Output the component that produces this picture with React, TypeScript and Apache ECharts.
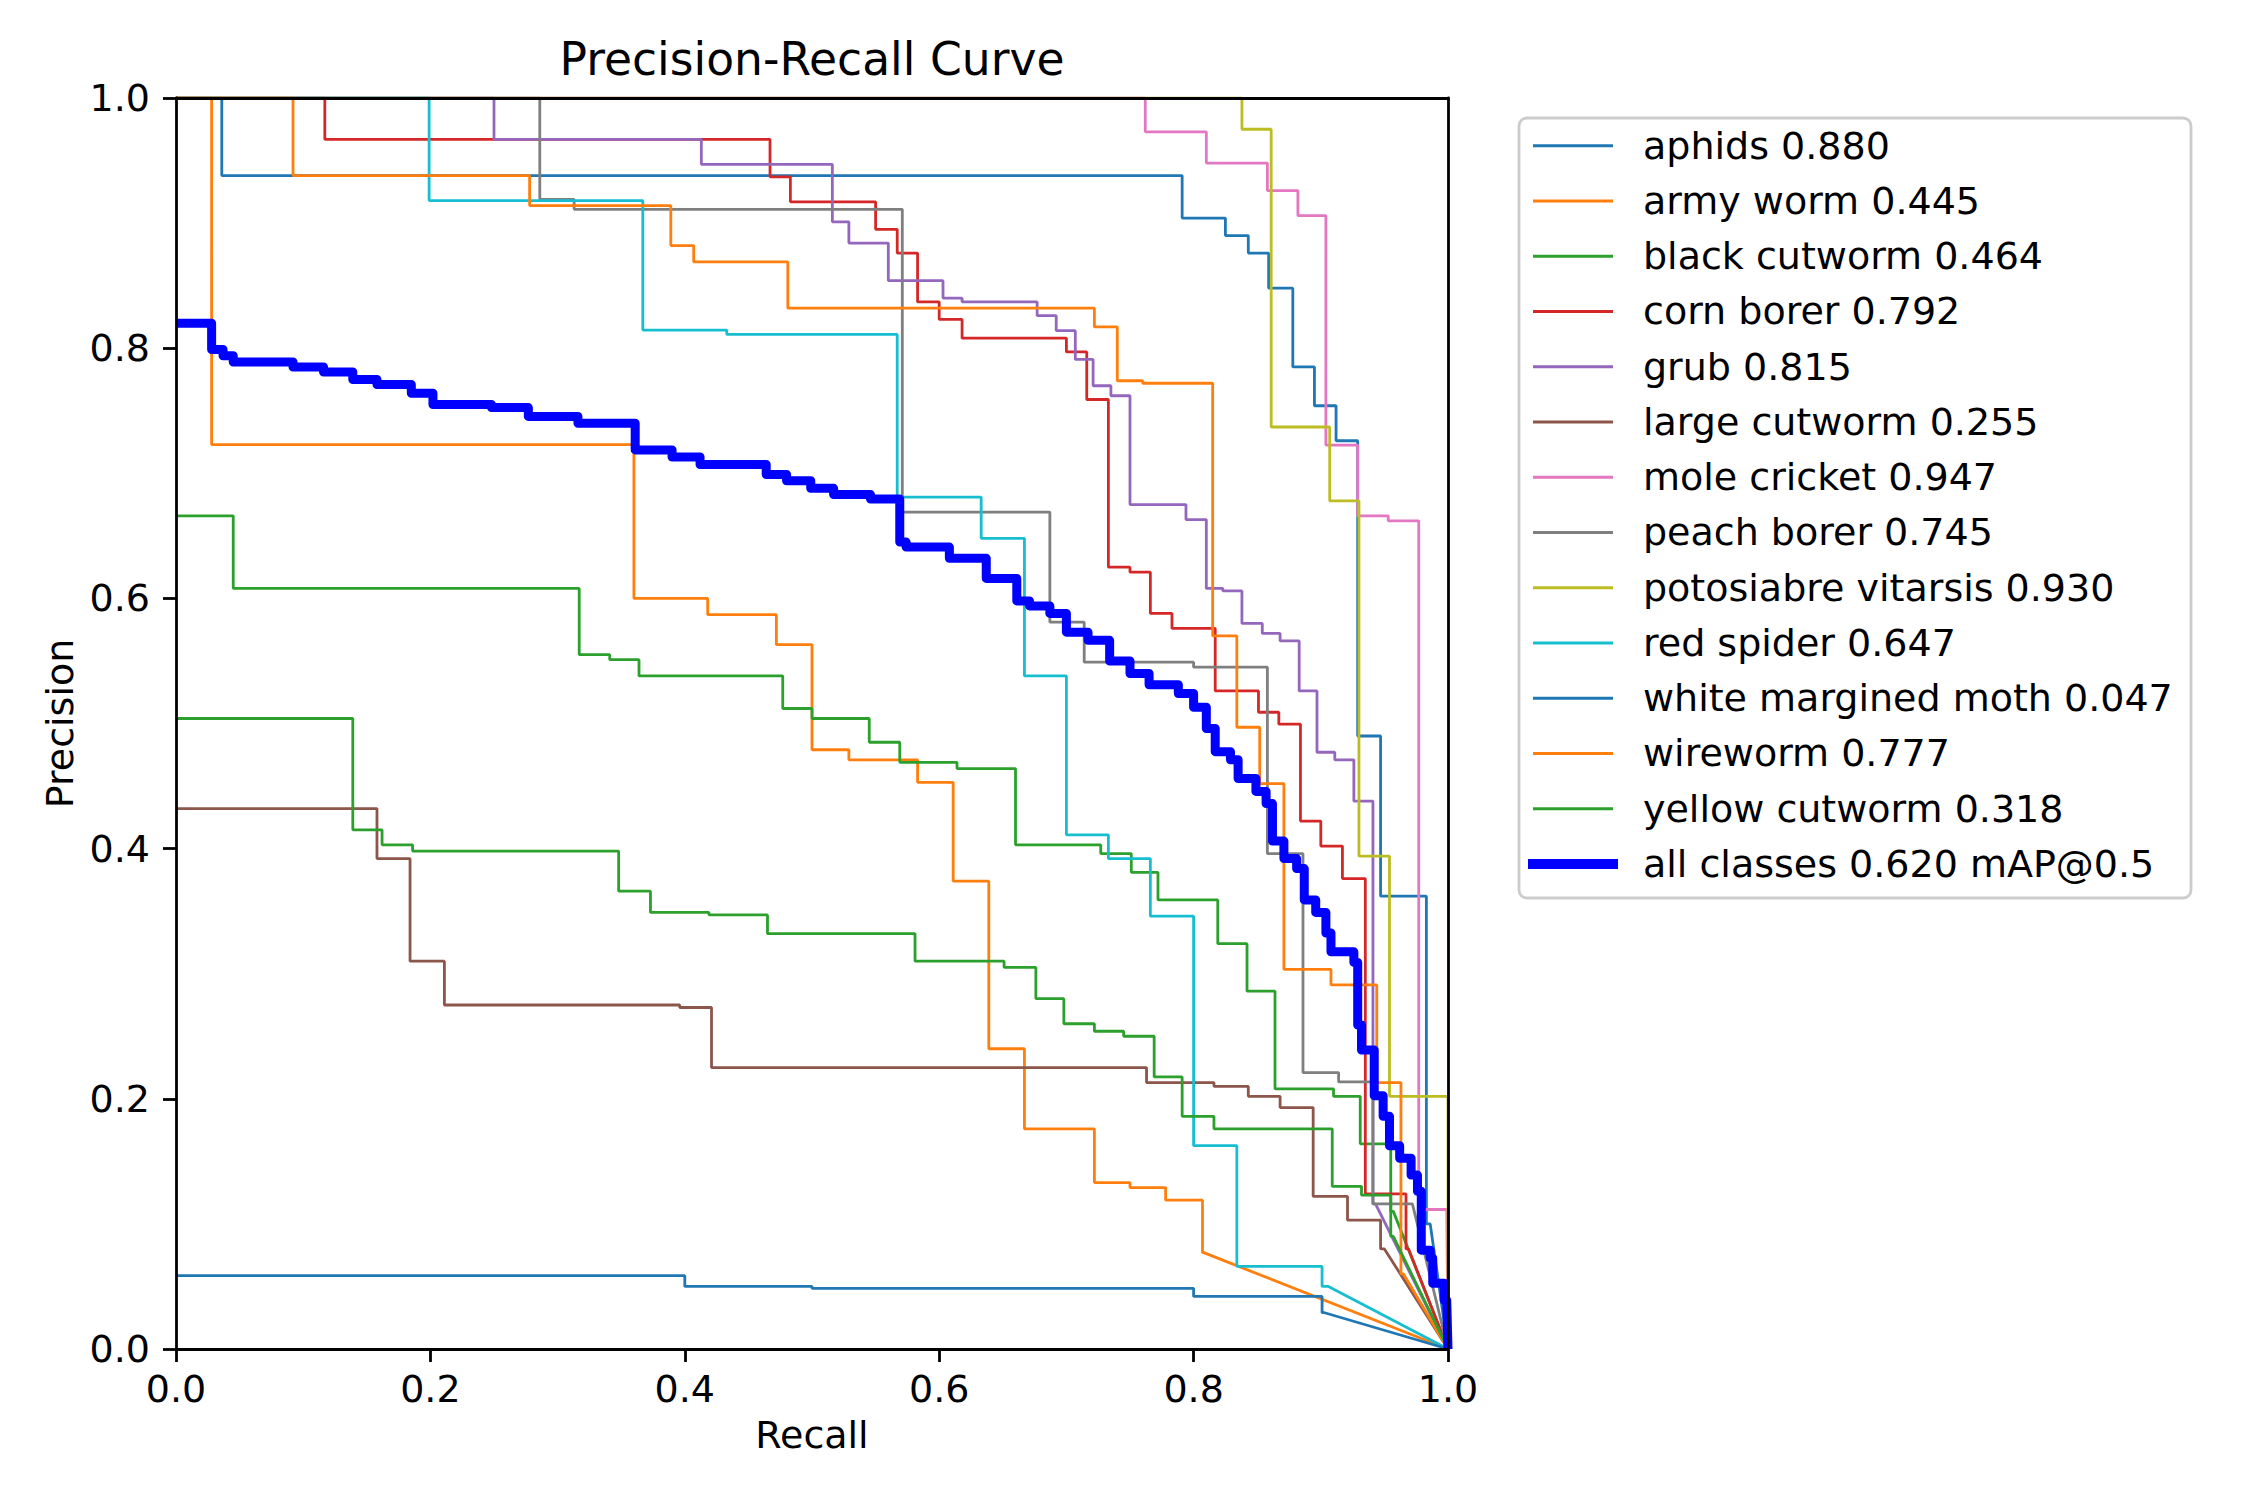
import React, { useEffect, useRef } from 'react';
import * as echarts from 'echarts';

const CLASS_NAMES = ['aphids', 'army worm', 'black cutworm', 'corn borer', 'grub', 'large cutworm', 'mole cricket', 'peach borer', 'potosiabre vitarsis', 'red spider', 'white margined moth', 'wireworm', 'yellow cutworm'];
const CLASS_AP = ['0.880', '0.445', '0.464', '0.792', '0.815', '0.255', '0.947', '0.745', '0.930', '0.647', '0.047', '0.777', '0.318'];
const COLORS = ['#1f77b4', '#ff7f0e', '#2ca02c', '#d62728', '#9467bd', '#8c564b', '#e377c2', '#7f7f7f', '#bcbd22', '#17becf', '#1f77b4', '#ff7f0e', '#2ca02c'];

// recall at which each precision level ends / precision levels
const APHIDS_R = [0.036, 0.791, 0.825, 0.843, 0.859, 0.878, 0.895, 0.912, 0.929, 0.947, 0.983, 0.986];
const APHIDS_P = [1.0, 0.938, 0.904, 0.890, 0.876, 0.848, 0.785, 0.754, 0.726, 0.490, 0.362, 0.100];
const ARMY_R = [0.028, 0.360, 0.418, 0.472, 0.500, 0.529, 0.583, 0.611, 0.639, 0.667, 0.722, 0.750, 0.778, 0.807, 0.808];
const ARMY_P = [1.0, 0.723, 0.600, 0.587, 0.563, 0.479, 0.471, 0.453, 0.374, 0.240, 0.176, 0.133, 0.129, 0.119, 0.077];
const BLACK_R = [0.045, 0.317, 0.341, 0.364, 0.477, 0.500, 0.545, 0.569, 0.614, 0.660, 0.727, 0.751, 0.772, 0.819, 0.842, 0.864, 0.910, 0.931, 0.955, 0.957];
const BLACK_P = [0.666, 0.608, 0.555, 0.551, 0.538, 0.512, 0.504, 0.485, 0.469, 0.464, 0.403, 0.396, 0.381, 0.359, 0.324, 0.286, 0.208, 0.202, 0.164, 0.11];
const CORN_R = [0.117, 0.467, 0.483, 0.550, 0.567, 0.583, 0.600, 0.618, 0.700, 0.716, 0.733, 0.750, 0.766, 0.783, 0.817, 0.851, 0.867, 0.884, 0.900, 0.917, 0.935, 0.967, 0.969];
const CORN_P = [1.0, 0.967, 0.937, 0.917, 0.895, 0.876, 0.837, 0.823, 0.808, 0.797, 0.759, 0.625, 0.621, 0.588, 0.576, 0.526, 0.509, 0.4995, 0.422, 0.402, 0.376, 0.124, 0.08];
const GRUB_R = [0.250, 0.413, 0.516, 0.529, 0.560, 0.603, 0.618, 0.677, 0.692, 0.707, 0.721, 0.735, 0.750, 0.794, 0.810, 0.823, 0.838, 0.854, 0.868, 0.883, 0.897, 0.911, 0.926, 0.941, 0.943];
const GRUB_P = [1.0, 0.967, 0.947, 0.901, 0.884, 0.854, 0.840, 0.837, 0.826, 0.814, 0.791, 0.770, 0.762, 0.675, 0.663, 0.608, 0.606, 0.580, 0.572, 0.566, 0.526, 0.477, 0.471, 0.438, 0.116];
const LARGE_R = [0.158, 0.184, 0.211, 0.396, 0.421, 0.763, 0.816, 0.843, 0.868, 0.894, 0.921, 0.947, 0.950];
const LARGE_P = [0.432, 0.392, 0.310, 0.275, 0.273, 0.225, 0.213, 0.210, 0.202, 0.193, 0.122, 0.103, 0.080];
const MOLE_R = [0.762, 0.810, 0.858, 0.882, 0.904, 0.929, 0.953, 0.977, 0.999];
const MOLE_P = [1.0, 0.973, 0.948, 0.926, 0.906, 0.7225, 0.666, 0.662, 0.1115];
const PEACH_R = [0.286, 0.313, 0.571, 0.687, 0.714, 0.800, 0.858, 0.886, 0.914, 0.941, 0.972];
const PEACH_P = [1.0, 0.919, 0.911, 0.669, 0.581, 0.549, 0.545, 0.396, 0.221, 0.2135, 0.116];
const POTO_R = [0.838, 0.861, 0.907, 0.930, 0.954, 1.0];
const POTO_P = [1.0, 0.975, 0.737, 0.678, 0.394, 0.202];
const SPIDER_R = [0.199, 0.367, 0.433, 0.567, 0.633, 0.667, 0.700, 0.733, 0.766, 0.800, 0.834, 0.901, 0.906];
const SPIDER_P = [1.0, 0.918, 0.8145, 0.811, 0.681, 0.648, 0.538, 0.411, 0.392, 0.346, 0.1625, 0.066, 0.05];
const MOTH_R = [0.400, 0.500, 0.800, 0.901, 0.903];
const MOTH_P = [0.0586, 0.050, 0.0485, 0.042, 0.029];
const WIRE_R = [0.092, 0.278, 0.389, 0.407, 0.481, 0.722, 0.740, 0.760, 0.815, 0.834, 0.852, 0.871, 0.908, 0.944, 0.963, 0.965];
const WIRE_P = [1.0, 0.938, 0.914, 0.882, 0.869, 0.832, 0.817, 0.774, 0.772, 0.570, 0.497, 0.452, 0.3035, 0.291, 0.213, 0.06];
const YELLOW_R = [0.139, 0.162, 0.186, 0.348, 0.373, 0.419, 0.465, 0.581, 0.651, 0.676, 0.698, 0.722, 0.745, 0.769, 0.791, 0.816, 0.909, 0.932, 0.955, 0.957];
const YELLOW_P = [0.504, 0.415, 0.403, 0.398, 0.366, 0.349, 0.347, 0.332, 0.310, 0.305, 0.280, 0.260, 0.254, 0.250, 0.2175, 0.186, 0.176, 0.130, 0.123, 0.09];

const ALL_LABEL = 'all classes 0.620 mAP@0.5';
const ALL_R = [0.028, 0.037, 0.045, 0.092, 0.116, 0.139, 0.158, 0.185, 0.202, 0.248, 0.277, 0.316, 0.361, 0.390, 0.412, 0.464, 0.480, 0.499, 0.517, 0.546, 0.569, 0.574, 0.608, 0.637, 0.661, 0.671, 0.687, 0.700, 0.717, 0.734, 0.750, 0.765, 0.788, 0.800, 0.810, 0.817, 0.829, 0.835, 0.849, 0.857, 0.862, 0.871, 0.881, 0.887, 0.896, 0.904, 0.908, 0.926, 0.929, 0.932, 0.942, 0.949, 0.954, 0.962, 0.971, 0.976, 0.979, 0.986, 0.988, 0.997, 0.999];
const ALL_P = [0.820, 0.799, 0.794, 0.789, 0.785, 0.781, 0.775, 0.771, 0.764, 0.755, 0.7525, 0.7455, 0.740, 0.7187, 0.713, 0.707, 0.699, 0.694, 0.688, 0.683, 0.6795, 0.645, 0.641, 0.632, 0.616, 0.598, 0.594, 0.588, 0.573, 0.5665, 0.550, 0.540, 0.531, 0.524, 0.513, 0.496, 0.4775, 0.471, 0.456, 0.4457, 0.436, 0.406, 0.392, 0.384, 0.359, 0.349, 0.3325, 0.3175, 0.309, 0.259, 0.239, 0.2025, 0.186, 0.1625, 0.1525, 0.139, 0.126, 0.079, 0.0726, 0.0526, 0.039];

const CLASS_R = [APHIDS_R, ARMY_R, BLACK_R, CORN_R, GRUB_R, LARGE_R, MOLE_R, PEACH_R, POTO_R, SPIDER_R, MOTH_R, WIRE_R, YELLOW_R];
const CLASS_P = [APHIDS_P, ARMY_P, BLACK_P, CORN_P, GRUB_P, LARGE_P, MOLE_P, PEACH_P, POTO_P, SPIDER_P, MOTH_P, WIRE_P, YELLOW_P];

function stepPoints(r: number[], p: number[]) {
  const pts: number[][] = [[0, p[0]]];
  for (let i = 0; i < r.length; i++) {
    pts.push([r[i], p[i]]);
    if (i + 1 < p.length) pts.push([r[i], p[i + 1]]);
  }
  pts.push([1, 0]);
  return pts;
}

const FONT = 'DejaVu Sans';

export default function App() {
  const ref = useRef<HTMLDivElement>(null);
  useEffect(() => {
    if (!ref.current) return;
    const chart = echarts.init(ref.current, undefined, { renderer: 'svg' });
    const axisLine = { show: true, onZero: false, lineStyle: { color: '#000', width: 2.8 } };
    const classSeries = CLASS_NAMES.map((n, i) => ({
      type: 'line',
      name: `${n} ${CLASS_AP[i]}`,
      data: stepPoints(CLASS_R[i], CLASS_P[i]),
      symbol: 'none',
      showSymbol: false,
      silent: true,
      lineStyle: { width: 2.8, color: COLORS[i] },
      itemStyle: { color: COLORS[i] },
      z: 2,
    }));
    const allSeries = {
      type: 'line',
      name: ALL_LABEL,
      data: stepPoints(ALL_R, ALL_P),
      symbol: 'none',
      showSymbol: false,
      silent: true,
      lineStyle: { width: 9, color: '#0000ff', join: 'round' },
      itemStyle: { color: '#0000ff' },
      z: 3,
    };
    chart.setOption({
      animation: false,
      backgroundColor: '#ffffff',
      title: {
        text: 'Precision-Recall Curve',
        left: 812,
        top: 36,
        textAlign: 'center',
        padding: 0,
        textStyle: { fontFamily: FONT, fontSize: 45.6, fontWeight: 'normal', color: '#000' },
      },
      grid: { left: 176, top: 98, width: 1272, height: 1251, containLabel: false },
      xAxis: [
        {
          type: 'value', min: 0, max: 1, interval: 0.2, position: 'bottom', z: 10,
          axisLine,
          axisTick: { show: true, length: 13, lineStyle: { color: '#000', width: 2.8 } },
          axisLabel: { formatter: (v: number) => v.toFixed(1), fontSize: 38, fontFamily: FONT, color: '#000', margin: 21, showMinLabel: true, showMaxLabel: true },
          splitLine: { show: false },
          name: 'Recall', nameLocation: 'middle', nameGap: 67,
          nameTextStyle: { fontSize: 38, fontFamily: FONT, color: '#000' },
        },
        {
          type: 'value', min: 0, max: 1, interval: 0.2, position: 'top', z: 10,
          axisLine, axisTick: { show: false }, axisLabel: { show: false }, splitLine: { show: false },
        },
      ],
      yAxis: [
        {
          type: 'value', min: 0, max: 1, interval: 0.2, position: 'left', z: 10,
          axisLine,
          axisTick: { show: true, length: 13, lineStyle: { color: '#000', width: 2.8 } },
          axisLabel: { formatter: (v: number) => v.toFixed(1), fontSize: 38, fontFamily: FONT, color: '#000', margin: 26, showMinLabel: true, showMaxLabel: true },
          splitLine: { show: false },
          name: 'Precision', nameLocation: 'middle', nameGap: 96, nameRotate: 90,
          nameTextStyle: { fontSize: 38, fontFamily: FONT, color: '#000' },
        },
        {
          type: 'value', min: 0, max: 1, interval: 0.2, position: 'right', z: 10,
          axisLine, axisTick: { show: false }, axisLabel: { show: false }, splitLine: { show: false },
        },
      ],
      legend: [
        {
          data: CLASS_NAMES.map((n, i) => `${n} ${CLASS_AP[i]}`),
          orient: 'vertical', left: 1533, top: 123.7, padding: 0,
          itemWidth: 80, itemHeight: 3, itemGap: 11.25, icon: 'rect', selectedMode: false,
          textStyle: { fontSize: 38, fontFamily: FONT, color: '#000', lineHeight: 44, padding: [0, 0, 0, 25] },
          z: 5,
        },
        {
          data: [ALL_LABEL],
          orient: 'vertical', left: 1528, top: 842, padding: 0,
          itemWidth: 90, itemHeight: 10, icon: 'rect', selectedMode: false,
          textStyle: { fontSize: 38, fontFamily: FONT, color: '#000', lineHeight: 44, padding: [0, 0, 0, 20] },
          z: 5,
        },
      ],
      graphic: [
        {
          type: 'rect', z: 1,
          shape: { x: 1519, y: 118, width: 672, height: 780, r: 8 },
          style: { fill: 'rgba(255,255,255,0.8)', stroke: '#cccccc', lineWidth: 2.8 },
        },
      ],
      series: [...classSeries, allSeries],
    });
    return () => chart.dispose();
  }, []);
  return <div ref={ref} style={{ position: 'absolute', left: 0, top: 0, width: 2250, height: 1500 }} />;
}
